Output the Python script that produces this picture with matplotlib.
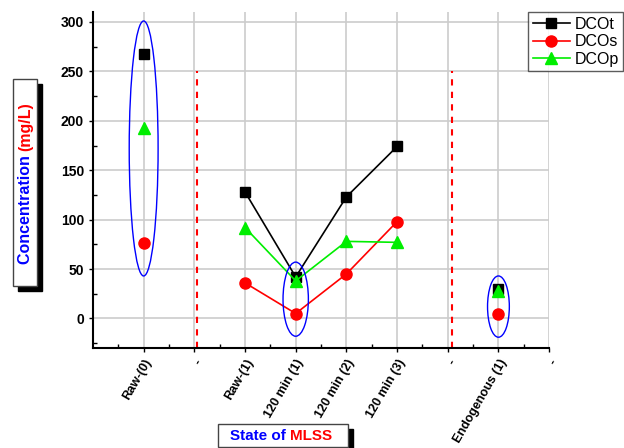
import numpy as np
import matplotlib
matplotlib.use("Agg")
import matplotlib.pyplot as plt
from matplotlib.patches import Ellipse, Rectangle
from matplotlib.text import Annotation

plt.rcParams['font.family'] = ['Liberation Sans', 'DejaVu Sans']

# categories along x (the "-" entries are separators)
categories = ["Raw-(0)", "-", "Raw-(1)", "120 min (1)", "120 min (2)",
              "120 min (3)", "-", "Endogenous (1)", "-"]
nan = np.nan
dcot = [268, nan, 128, 42, 123, 174, nan, 30, nan]
dcos = [76, nan, 36, 5, 45, 98, nan, 4, nan]
dcop = [193, nan, 92, 38, 78, 77, nan, 28, nan]

# grouping ellipses: (x, y center, width, height)
groups = [(0, 172, 0.57, 258), (3, 19.5, 0.5, 75), (7, 12, 0.43, 62)]
separators = [1.05, 6.08]

x = np.arange(len(categories))

fig = plt.figure(figsize=(6.24, 4.48), dpi=100)
ax = fig.add_axes([0.149, 0.223, 0.731, 0.75])

ax.set_axisbelow(True)
ax.grid(True, color='#cccccc', lw=1.2)

ax.plot(x, dcot, color='black', lw=1.2, marker='s', markersize=7, label='DCOt', zorder=3)
ax.plot(x, dcos, color='red', lw=1.2, marker='o', markersize=8, label='DCOs', zorder=3)
ax.plot(x, dcop, color='#00ee00', lw=1.2, marker='^', markersize=9, label='DCOp', zorder=3)

for gx, gy, gw, gh in groups:
    ax.add_patch(Ellipse((gx, gy), gw, gh, fill=False, edgecolor='blue', lw=1, zorder=4))

ax.vlines(separators, -30, 250, colors='red', linestyles=(0, (3, 3)), lw=1.5, zorder=2)

ax.set_xlim(-1, 8)
ax.set_ylim(-30, 310)
ax.set_yticks(np.arange(0, 301, 50))
ax.set_yticks(np.arange(-25, 310, 25), minor=True)
ax.set_xticks(x)
ax.set_xticks(np.arange(-0.5, 8, 1), minor=True)
ax.set_xticklabels(categories, rotation=60, ha='right', rotation_mode='anchor',
                   fontsize=9, fontweight='bold')
for lab in ax.get_yticklabels():
    lab.set_fontsize(10)
    lab.set_fontweight('bold')
ax.tick_params(which='major', direction='out', length=3, width=1)
ax.tick_params(which='minor', direction='in', length=3, width=1)
ax.grid(False, which='minor')

for s in ['top', 'right']:
    ax.spines[s].set_visible(False)
for s in ['left', 'bottom']:
    ax.spines[s].set_linewidth(1.5)

leg = fig.legend(loc='upper left', bbox_to_anchor=(528 / 624, 1 - 12 / 448),
                 fontsize=11.5, frameon=True, fancybox=False, handlelength=2.3,
                 handletextpad=0.3, borderpad=0.3, labelspacing=0.15, borderaxespad=0)
leg.get_frame().set_edgecolor('#333333')
leg.get_frame().set_linewidth(1)


def px(xp, yp):
    return xp / 624, 1 - yp / 448


# y label box with shadow
fig.patches.append(Rectangle(px(18, 291), 24 / 624, 207 / 448, transform=fig.transFigure,
                             facecolor='black', edgecolor='black', zorder=1))
fig.patches.append(Rectangle(px(13, 286), 24 / 624, 207 / 448, transform=fig.transFigure,
                             facecolor='white', edgecolor='#444444', lw=1, zorder=2))
t1 = fig.text(*px(25.5, 264), "Concentration ", rotation=90, color='blue',
              fontsize=11.5, fontweight='bold', ha='center', va='bottom', zorder=3)
fig.add_artist(Annotation("(mg/L)", xy=(0.5, 1), xycoords=t1, rotation=90, color='red',
                          fontsize=11.5, fontweight='bold', ha='center', va='bottom',
                          zorder=3, annotation_clip=False))

# x label box with shadow
fig.patches.append(Rectangle(px(223, 452), 130 / 624, 23 / 448, transform=fig.transFigure,
                             facecolor='black', edgecolor='black', zorder=1))
fig.patches.append(Rectangle(px(218, 447), 130 / 624, 23 / 448, transform=fig.transFigure,
                             facecolor='white', edgecolor='#444444', lw=1, zorder=2))
t2 = fig.text(*px(230, 443), "State of ", color='blue', fontsize=11, fontweight='bold',
              ha='left', va='bottom', zorder=3)
fig.add_artist(Annotation("MLSS", xy=(1, 0), xycoords=t2, color='red', fontsize=11,
                          fontweight='bold', ha='left', va='bottom', zorder=3,
                          annotation_clip=False))

fig.savefig('out.png', dpi=100)
